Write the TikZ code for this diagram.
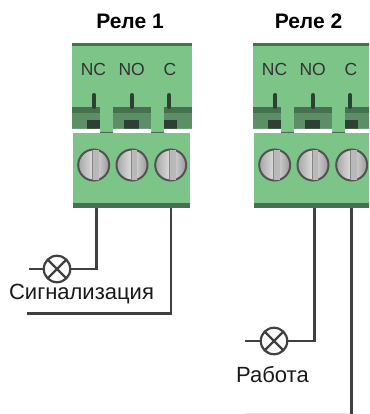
\documentclass[tikz,border=0pt]{standalone}
\usepackage{fontspec}
\setmainfont{Liberation Sans}
\usetikzlibrary{positioning}
\definecolor{termgreen}{HTML}{7DC488}
\definecolor{termdark}{HTML}{47704F}
\definecolor{termmid}{HTML}{5C8F66}
\definecolor{termblack}{HTML}{2C4033}
\definecolor{wiregray}{HTML}{404040}
\begin{document}
\begin{tikzpicture}[x=1pt,y=-1pt,
  wirepath/.style={draw=wiregray,line width=2.1pt},
  screwhead/.style={circle,draw=wiregray!90,line width=2pt,minimum size=31pt,inner sep=0pt,left color=gray!70,right color=gray!80,middle color=gray!25},
  lampnode/.style={circle,draw=wiregray,line width=2.2pt,minimum size=26.5pt,inner sep=0pt,
    path picture={\draw[wiregray,line width=2.2pt] (path picture bounding box.south west) -- (path picture bounding box.north east) (path picture bounding box.north west) -- (path picture bounding box.south east);}},
  termtext/.style={font=\fontsize{17.5}{17.5}\selectfont,text=black!80},
  plaintext/.style={font=\fontsize{22}{22}\selectfont,text=black!90},
  headtext/.style={font=\fontsize{21}{21}\bfseries\selectfont}]
\useasboundingbox (0,0) rectangle (369,414);
\begin{scope}
\clip (0,0) rectangle (369,414);
\foreach \xoff/\blk in {0/a,181/b} {
  \begin{scope}[xshift=\xoff]
  % upper part
  \fill[termgreen] (72,43) rectangle (192,133);
  \fill[termdark] (72,43) rectangle (192,46);
  \foreach \xa/\xb/\xc/\xd in {72/100/87/100,113/151/124/139,164/192/164/177} {
    \fill[termmid] (\xa,113) rectangle (\xb,129);
    \fill[termdark] (\xa,107) rectangle (\xb,113);
    \fill[termblack] (\xc,120) rectangle (\xd,129);
  }
  \fill[white] (72,129) rectangle (100,133) (113,129) rectangle (151,133) (164,129) rectangle (192,133);
  \foreach \xa in {94.3,131.7,169} {
    \draw[termblack,line width=4pt,line cap=round] (\xa,95) -- (\xa,107);
  }
  % lower part
  \fill[termgreen] (73,133) rectangle (190,203);
  \fill[termdark] (73,203) rectangle (190,208);
  \fill[termdark] (100,132) rectangle (113,133) (151,132) rectangle (164,133);
  \node[termtext] (\blk nc) at (93.5,69) {NC};
  \node[termtext] (\blk no) at (131.7,69) {NO};
  \node[termtext] (\blk c) at (170,69) {C};
  \foreach \xa/\scr in {93.7/1,132/2,170.7/3} {
    \node[screwhead] (\blk s\scr) at (\xa,165) {};
    \fill[gray!55] (\xa-1,150) rectangle (\xa+5,180);
    \draw[gray!40!black!60,line width=.6pt] (\xa-1,150) -- (\xa-1,180);
  }
  \end{scope}
}
\end{scope}
\node[headtext] (rel1) at (130,21) {Реле 1};
\node[headtext] (rel2) at (308.5,21) {Реле 2};
% lamps
\node[lampnode] (lamp1) at (57,269) {};
\node[lampnode] (lamp2) at (274,341) {};
\node[plaintext] (sig) at (81.5,294) {Сигнализация};
\node[plaintext] (rab) at (272.5,375) {Работа};
\coordinate (wa1) at (96.5,208);
\coordinate (wa2) at (170.7,208);
\coordinate (wb1) at (314.5,208);
\coordinate (wb2) at (351.5,208);
\coordinate (la) at (29,269);
\coordinate (lb) at (27,313.5);
\coordinate (lc) at (245,341);
\coordinate (ld) at (351.5,414);
\coordinate (le) at (245,413);
\draw[wirepath] (wa1) |- (lamp1);
\draw[wirepath] (lamp1) -- (la);
\draw[wirepath] (wa2) |- (lb);
\draw[wirepath] (wb1) |- (lamp2);
\draw[wirepath] (lamp2) -- (lc);
\draw[black!10,line width=.8pt] (le) -- (ld |- le);
\draw[wirepath] (wb2) -- (ld);
\end{tikzpicture}
\end{document}
